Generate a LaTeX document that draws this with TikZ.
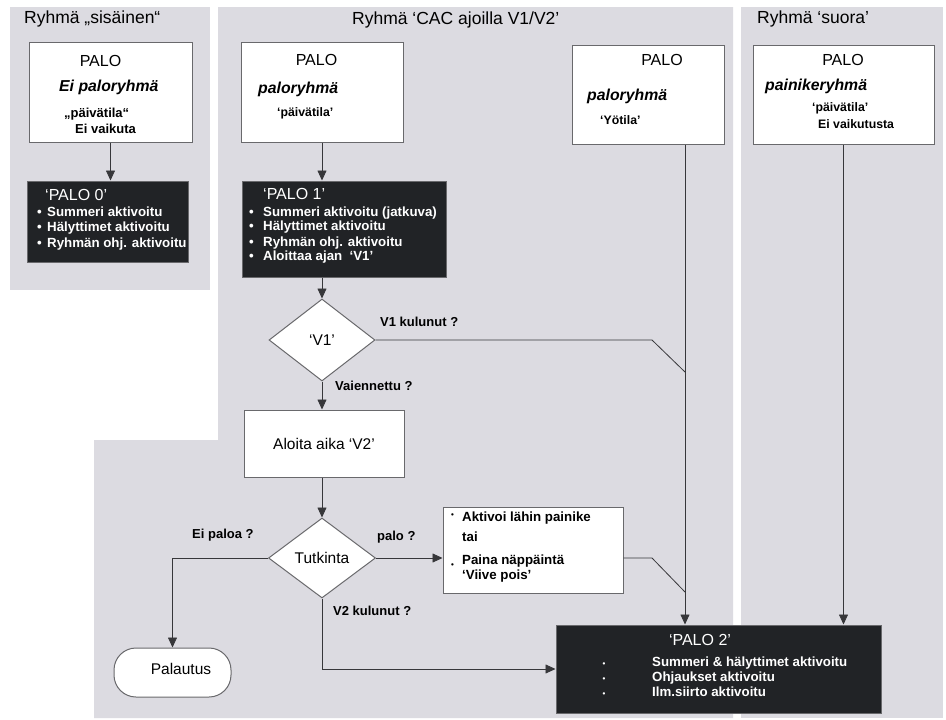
\documentclass[tikz,border=0pt]{standalone}
\usepackage{fontspec}
\setmainfont{Liberation Sans}
\usetikzlibrary{arrows.meta,shapes.geometric}
\definecolor{bgc}{RGB}{220,219,225}
\definecolor{blk}{RGB}{33,35,38}
\definecolor{bordc}{RGB}{105,105,108}
\definecolor{linec}{RGB}{55,55,58}
\newcommand\fTitle{\fontsize{17.5}{20}\selectfont}
\newcommand\fPalo{\fontsize{16}{18}\selectfont}
\newcommand\fBI{\fontsize{15.8}{18}\selectfont\bfseries\itshape}
\newcommand\fSm{\fontsize{12.3}{14}\selectfont\bfseries}
\newcommand\fSmL{\fontsize{13}{15}\selectfont\bfseries}
\newcommand\fBd{\fontsize{13.3}{15}\selectfont\bfseries}
\newcommand\fReg{\fontsize{15.5}{18}\selectfont}
\newcommand\fLbl{\fontsize{13}{15}\selectfont\bfseries}
\newcommand\fDot{\fontsize{8}{9}\selectfont\bfseries}
\begin{document}
\begin{tikzpicture}[x=1pt,y=-1pt,
  wbox/.style={draw=bordc,fill=white,line width=1pt,inner sep=0pt},
  bbox/.style={draw=bordc,fill=blk,line width=1pt,inner sep=0pt},
  dia/.style={diamond,draw=bordc,fill=white,line width=1pt,inner sep=0pt},
  conn/.style={draw=linec,line width=0.8pt},
  arr/.style={conn,-{Triangle[length=10pt,width=9pt]}},
  tx/.style={inner sep=0pt,anchor=mid west,text=black},
  wt/.style={inner sep=0pt,anchor=mid west,text=white},
  txc/.style={inner sep=0pt,anchor=mid,text=black},
  wtc/.style={inner sep=0pt,anchor=mid,text=white}]
\useasboundingbox (0,0) rectangle (946,720);
\fill[white] (0,0) rectangle (946,720);
% group backgrounds
\fill[bgc] (10,7) rectangle (210,290);
\fill[bgc] (218,7) -- (733,7) -- (733,718) -- (94,718) -- (94,440) -- (218,440) -- cycle;
\fill[bgc] (741,7) rectangle (943,718);
% titles
\node[tx,font=\fTitle] (t1) at (24,21) {Ryhmä „sisäinen“};
\node[tx,font=\fTitle] (t2) at (352,22) {Ryhmä ‘CAC ajoilla V1/V2’};
\node[tx,font=\fTitle] (t3) at (757,21) {Ryhmä ‘suora’};
% left group
\node[wbox,minimum width=163,minimum height=100] (bL) at (110.5,92) {};
\node[txc,font=\fPalo] (bLa) at (100.5,64) {PALO};
\node[tx,font=\fBI] (bLb) at (59,89) {Ei paloryhmä};
\node[tx,font=\fSmL] (bLc) at (64,115) {„päivätila“};
\node[tx,font=\fSmL] (bLd) at (75,131) {Ei vaikuta};
\node[bbox,minimum width=161,minimum height=81] (p0) at (107.5,221.5) {};
\node[wt,font=\fPalo] (p0t) at (45,198) {‘PALO 0’};
\node[wt,font=\fBd] (p0a) at (37,214) {\makebox[10pt][l]{•}Summeri aktivoitu};
\node[wt,font=\fBd] (p0b) at (37,229) {\makebox[10pt][l]{•}Hälyttimet aktivoitu};
\node[wt,font=\fBd] (p0c) at (37,245) {\makebox[10pt][l]{•}Ryhmän ohj. aktivoitu};
\draw[arr] (bL.south) -- (bL.south |- p0.north);
% middle group
\node[wbox,minimum width=162,minimum height=100] (bM) at (322,92) {};
\node[txc,font=\fPalo] (bMa) at (316.5,63) {PALO};
\node[tx,font=\fBI] (bMb) at (258,91) {paloryhmä};
\node[tx,font=\fSm] (bMc) at (277,114) {‘päivätila’};
\node[bbox,minimum width=204,minimum height=96] (p1) at (344,229) {};
\node[wt,font=\fPalo] (p1t) at (263,197) {‘PALO 1’};
\node[wt,font=\fBd] (p1a) at (249,214) {\makebox[14pt][l]{•}Summeri aktivoitu (jatkuva)};
\node[wt,font=\fBd] (p1b) at (249,228) {\makebox[14pt][l]{•}Hälyttimet aktivoitu};
\node[wt,font=\fBd] (p1c) at (249,244) {\makebox[14pt][l]{•}Ryhmän ohj. aktivoitu};
\node[wt,font=\fBd] (p1d) at (249,258) {\makebox[14pt][l]{•}Aloittaa ajan~ ‘V1’};
\node[dia,minimum width=106,minimum height=82,font=\fReg] (dV1) at (322,340) {‘V1’};
\node[wbox,minimum width=160,minimum height=67,font=\fReg] (bV2) at (324,443.5) {Aloita aika ‘V2’};
\node[dia,minimum width=107,minimum height=80,font=\fReg] (dT) at (322,558) {Tutkinta};
\node[wbox,rounded corners=22,minimum width=117,minimum height=49] (pal) at (172.5,672.5) {};
\node[txc,font=\fReg] (palt) at (181,672) {Palautus};
\node[wbox,minimum width=180,minimum height=86] (bA) at (533,550) {};
\node[tx,font=\fDot] (bAd1) at (451,515) {•};
\node[tx,font=\fBd] (bAa) at (462,519) {Aktivoi lähin painike};
\node[tx,font=\fBd] (bAb) at (462,539) {tai};
\node[tx,font=\fDot] (bAd2) at (451,565) {•};
\node[tx,font=\fBd] (bAc) at (462,562) {Paina näppäintä};
\node[tx,font=\fBd] (bAe) at (462,577) {‘Viive pois’};
\node[wbox,minimum width=152,minimum height=99] (bY) at (648,94.5) {};
\node[txc,font=\fPalo] (bYa) at (662,63) {PALO};
\node[tx,font=\fBI] (bYb) at (587,98) {paloryhmä};
\node[tx,font=\fSm] (bYc) at (600,122) {‘Yötila’};
% right group
\node[wbox,minimum width=181,minimum height=99] (bS) at (843.5,94.5) {};
\node[txc,font=\fPalo] (bSa) at (843,63) {PALO};
\node[tx,font=\fBI] (bSb) at (765,88) {painikeryhmä};
\node[tx,font=\fSm] (bSc) at (812,109) {‘päivätila’};
\node[tx,font=\fSm] (bSd) at (818,126) {Ei vaikutusta};
% PALO 2
\node[bbox,minimum width=325,minimum height=88] (p2) at (718.5,669) {};
\node[wtc,font=\fPalo] (p2t) at (700,643) {‘PALO 2’};
\node[wtc,font=\fDot] (p2d1) at (604,664) {•};
\node[wtc,font=\fDot] (p2d2) at (604,679) {•};
\node[wtc,font=\fDot] (p2d3) at (604,694) {•};
\node[wt,font=\fBd] (p2a) at (652,664) {Summeri \& hälyttimet aktivoitu};
\node[wt,font=\fBd] (p2b) at (652,679) {Ohjaukset aktivoitu};
\node[wt,font=\fBd] (p2c) at (652,694) {Ilm.siirto aktivoitu};
% labels
\node[tx,font=\fLbl] (lV1) at (380,324) {V1 kulunut ?};
\node[tx,font=\fLbl] (lVa) at (335,388) {Vaiennettu ?};
\node[tx,font=\fLbl] (lEi) at (192,536) {Ei paloa ?};
\node[tx,font=\fLbl] (lPa) at (377,538) {palo ?};
\node[tx,font=\fLbl] (lV2) at (333,613) {V2 kulunut ?};
% helper coordinates
\coordinate (kV) at (652,340);
\coordinate (jV) at (685,372);
\coordinate (kA) at (652,558);
\coordinate (jA) at (685,592);
% connectors
\draw[arr] (bM.south) -- (bM.south |- p1.north);
\draw[arr] (p1.south -| dV1.north) -- (dV1.north);
\draw[conn] (dV1.east) -- (kV) -- (jV);
\draw[arr] (dV1.south) -- (dV1.south |- bV2.north);
\draw[arr] (bV2.south -| dT.north) -- (dT.north);
\draw[arr] (dT.west) -| (pal.north);
\draw[arr] (dT.east) -- (dT.east -| bA.west);
\draw[conn] (dT.east -| bA.east) -- (kA) -- (jA);
\draw[arr] (dT.south) |- (p2.west);
\draw[arr] ([xshift=37]bY.south) -- ([xshift=37]bY.south |- p2.north);
\draw[arr] (bS.south) -- (bS.south |- p2.north);
\end{tikzpicture}
\end{document}
